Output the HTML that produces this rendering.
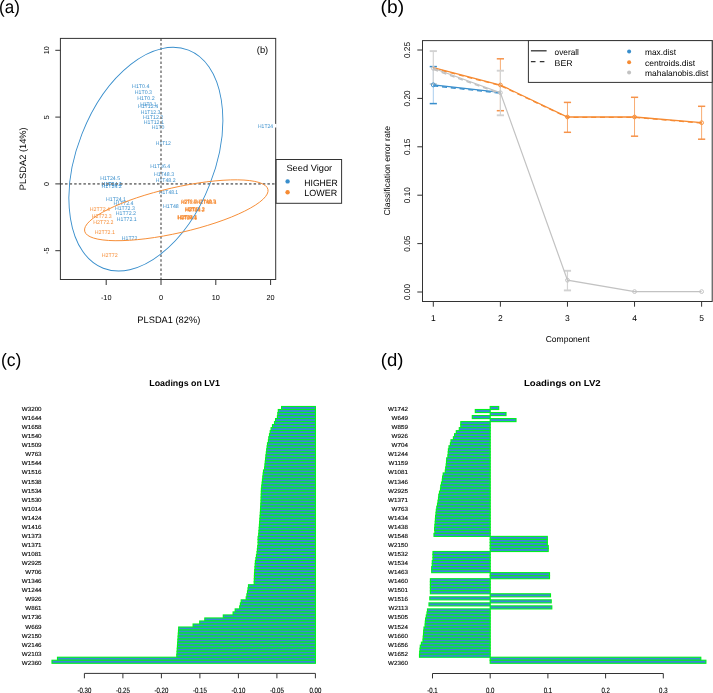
<!DOCTYPE html>
<html><head><meta charset="utf-8"><style>
html,body{margin:0;padding:0;background:#fff;width:713px;height:693px;overflow:hidden;}
svg{display:block;font-family:"Liberation Sans", sans-serif;will-change:transform;text-rendering:geometricPrecision;}
</style></head><body>
<svg width="713" height="693" viewBox="0 0 713 693" font-family='"Liberation Sans", sans-serif'><text x="-1.00" y="12.90" font-size="18" text-anchor="start" fill="#000" textLength="20.8" lengthAdjust="spacingAndGlyphs">(a)</text>
<text x="380.60" y="12.90" font-size="18" text-anchor="start" fill="#000" textLength="23.5" lengthAdjust="spacingAndGlyphs">(b)</text>
<text x="0.90" y="366.40" font-size="18" text-anchor="start" fill="#000" textLength="20.4" lengthAdjust="spacingAndGlyphs">(c)</text>
<text x="380.80" y="366.10" font-size="18" text-anchor="start" fill="#000" textLength="22.6" lengthAdjust="spacingAndGlyphs">(d)</text>
<text x="140.75" y="87.80" font-size="5.3" text-anchor="middle" fill="#388ECC" textLength="17.3" lengthAdjust="spacingAndGlyphs">H1T0.4</text>
<text x="143.40" y="93.60" font-size="5.3" text-anchor="middle" fill="#388ECC" textLength="17.2" lengthAdjust="spacingAndGlyphs">H1T0.3</text>
<text x="145.95" y="99.80" font-size="5.3" text-anchor="middle" fill="#388ECC" textLength="17.3" lengthAdjust="spacingAndGlyphs">H1T0.2</text>
<text x="148.30" y="105.70" font-size="5.3" text-anchor="middle" fill="#388ECC" textLength="16.2" lengthAdjust="spacingAndGlyphs">H1T0.1</text>
<text x="148.00" y="108.30" font-size="5.3" text-anchor="middle" fill="#388ECC" textLength="20.2" lengthAdjust="spacingAndGlyphs">H1T12.4</text>
<text x="150.60" y="113.70" font-size="5.3" text-anchor="middle" fill="#388ECC" textLength="19.6" lengthAdjust="spacingAndGlyphs">H1T12.3</text>
<text x="153.10" y="119.20" font-size="5.3" text-anchor="middle" fill="#388ECC" textLength="20.4" lengthAdjust="spacingAndGlyphs">H1T12.2</text>
<text x="153.80" y="123.90" font-size="5.3" text-anchor="middle" fill="#388ECC" textLength="20.2" lengthAdjust="spacingAndGlyphs">H1T12.1</text>
<text x="158.15" y="128.50" font-size="5.3" text-anchor="middle" fill="#388ECC" textLength="12.7" lengthAdjust="spacingAndGlyphs">H1T0</text>
<text x="163.30" y="144.90" font-size="5.3" text-anchor="middle" fill="#388ECC" textLength="15.0" lengthAdjust="spacingAndGlyphs">H1T12</text>
<text x="265.50" y="127.60" font-size="5.3" text-anchor="middle" fill="#388ECC" textLength="15.0" lengthAdjust="spacingAndGlyphs">H1T24</text>
<text x="160.25" y="167.80" font-size="5.3" text-anchor="middle" fill="#388ECC" textLength="19.9" lengthAdjust="spacingAndGlyphs">H1T36.4</text>
<text x="164.00" y="175.70" font-size="5.3" text-anchor="middle" fill="#388ECC" textLength="20.2" lengthAdjust="spacingAndGlyphs">H1T48.3</text>
<text x="165.65" y="181.80" font-size="5.3" text-anchor="middle" fill="#388ECC" textLength="19.7" lengthAdjust="spacingAndGlyphs">H1T48.2</text>
<text x="110.15" y="179.70" font-size="5.3" text-anchor="middle" fill="#388ECC" textLength="19.9" lengthAdjust="spacingAndGlyphs">H1T24.5</text>
<text x="111.60" y="185.50" font-size="5.3" text-anchor="middle" fill="#388ECC" textLength="20.4" lengthAdjust="spacingAndGlyphs">H1T24.4</text>
<text x="111.70" y="186.20" font-size="5.3" text-anchor="middle" fill="#388ECC" textLength="20.2" lengthAdjust="spacingAndGlyphs">H1T24.3</text>
<text x="111.60" y="187.70" font-size="5.3" text-anchor="middle" fill="#388ECC" textLength="20.4" lengthAdjust="spacingAndGlyphs">H1T24.2</text>
<text x="168.55" y="193.70" font-size="5.3" text-anchor="middle" fill="#388ECC" textLength="19.1" lengthAdjust="spacingAndGlyphs">H1T48.1</text>
<text x="115.95" y="200.90" font-size="5.3" text-anchor="middle" fill="#388ECC" textLength="19.9" lengthAdjust="spacingAndGlyphs">H1T24.1</text>
<text x="123.45" y="204.90" font-size="5.3" text-anchor="middle" fill="#388ECC" textLength="19.9" lengthAdjust="spacingAndGlyphs">H1T72.4</text>
<text x="124.85" y="210.30" font-size="5.3" text-anchor="middle" fill="#388ECC" textLength="19.9" lengthAdjust="spacingAndGlyphs">H1T72.3</text>
<text x="125.90" y="214.70" font-size="5.3" text-anchor="middle" fill="#388ECC" textLength="20.2" lengthAdjust="spacingAndGlyphs">H1T72.2</text>
<text x="126.70" y="221.20" font-size="5.3" text-anchor="middle" fill="#388ECC" textLength="19.8" lengthAdjust="spacingAndGlyphs">H1T72.1</text>
<text x="170.90" y="207.50" font-size="5.3" text-anchor="middle" fill="#388ECC" textLength="15.8" lengthAdjust="spacingAndGlyphs">H1T48</text>
<text x="129.60" y="240.20" font-size="5.3" text-anchor="middle" fill="#388ECC" textLength="15.6" lengthAdjust="spacingAndGlyphs">H1T72</text>
<text x="99.90" y="210.80" font-size="5.3" text-anchor="middle" fill="#F68B33" textLength="20.2" lengthAdjust="spacingAndGlyphs">H2T72.4</text>
<text x="101.75" y="217.60" font-size="5.3" text-anchor="middle" fill="#F68B33" textLength="19.9" lengthAdjust="spacingAndGlyphs">H2T72.3</text>
<text x="103.40" y="224.10" font-size="5.3" text-anchor="middle" fill="#F68B33" textLength="20.2" lengthAdjust="spacingAndGlyphs">H2T72.2</text>
<text x="104.80" y="233.90" font-size="5.3" text-anchor="middle" fill="#F68B33" textLength="20.2" lengthAdjust="spacingAndGlyphs">H2T72.1</text>
<text x="109.65" y="257.20" font-size="5.3" text-anchor="middle" fill="#F68B33" textLength="15.9" lengthAdjust="spacingAndGlyphs">H2T72</text>
<text x="188.40" y="203.50" font-size="5.3" text-anchor="middle" fill="#F68B33" textLength="14.8" lengthAdjust="spacingAndGlyphs">H2T0.4</text>
<text x="188.90" y="203.20" font-size="5.3" text-anchor="middle" fill="#F68B33" textLength="14.8" lengthAdjust="spacingAndGlyphs">H2T0.3</text>
<text x="206.30" y="203.50" font-size="5.3" text-anchor="middle" fill="#F68B33" textLength="20.2" lengthAdjust="spacingAndGlyphs">H2T48.4</text>
<text x="206.50" y="203.80" font-size="5.3" text-anchor="middle" fill="#F68B33" textLength="19.8" lengthAdjust="spacingAndGlyphs">H2T48.3</text>
<text x="188.60" y="203.80" font-size="5.3" text-anchor="middle" fill="#F68B33" textLength="14.8" lengthAdjust="spacingAndGlyphs">H2T0.5</text>
<text x="206.00" y="203.20" font-size="5.3" text-anchor="middle" fill="#F68B33" textLength="20.0" lengthAdjust="spacingAndGlyphs">H2T48.5</text>
<text x="191.90" y="211.40" font-size="5.3" text-anchor="middle" fill="#F68B33" textLength="14.2" lengthAdjust="spacingAndGlyphs">H2T0.2</text>
<text x="195.10" y="211.40" font-size="5.3" text-anchor="middle" fill="#F68B33" textLength="19.2" lengthAdjust="spacingAndGlyphs">H2T48.2</text>
<text x="194.75" y="211.70" font-size="5.3" text-anchor="middle" fill="#F68B33" textLength="19.5" lengthAdjust="spacingAndGlyphs">H2T24.2</text>
<text x="195.00" y="211.10" font-size="5.3" text-anchor="middle" fill="#F68B33" textLength="19.4" lengthAdjust="spacingAndGlyphs">H2T24.3</text>
<text x="187.15" y="219.30" font-size="5.3" text-anchor="middle" fill="#F68B33" textLength="19.9" lengthAdjust="spacingAndGlyphs">H2T48.1</text>
<text x="187.30" y="219.10" font-size="5.3" text-anchor="middle" fill="#F68B33" textLength="18.6" lengthAdjust="spacingAndGlyphs">H2T0.1</text>
<text x="187.25" y="219.60" font-size="5.3" text-anchor="middle" fill="#F68B33" textLength="19.5" lengthAdjust="spacingAndGlyphs">H2T24.1</text>
<text x="187.25" y="218.90" font-size="5.3" text-anchor="middle" fill="#F68B33" textLength="19.7" lengthAdjust="spacingAndGlyphs">H2T24.4</text>
<line x1="161.00" y1="38.40" x2="161.00" y2="279.50" stroke="#808080" stroke-width="1.6" stroke-dasharray="2.5 2.1"/>
<line x1="60.40" y1="183.90" x2="275.70" y2="183.90" stroke="#808080" stroke-width="1.6" stroke-dasharray="2.5 2.1"/>
<ellipse cx="145.87" cy="159.17" rx="68.71" ry="117.08" transform="rotate(21.36 145.87 159.17)" fill="none" stroke="#388ECC" stroke-width="0.9"/>
<ellipse cx="176.3" cy="210.27" rx="94.0" ry="22.68" transform="rotate(-12.86 176.3 210.27)" fill="none" stroke="#F68B33" stroke-width="0.9"/>
<rect x="60.4" y="38.4" width="215.30" height="241.10" fill="none" stroke="#333" stroke-width="1"/>
<rect x="274.9" y="123.9" width="1.8" height="3.6" fill="#fff"/>
<line x1="55.30" y1="50.30" x2="60.40" y2="50.30" stroke="#333" stroke-width="1"/>
<text x="48.80" y="50.30" font-size="7.3" text-anchor="middle" fill="#000" transform="rotate(-90 48.80 50.30)">10</text>
<line x1="55.30" y1="117.10" x2="60.40" y2="117.10" stroke="#333" stroke-width="1"/>
<text x="48.80" y="117.10" font-size="7.3" text-anchor="middle" fill="#000" transform="rotate(-90 48.80 117.10)">5</text>
<line x1="55.30" y1="183.90" x2="60.40" y2="183.90" stroke="#333" stroke-width="1"/>
<text x="48.80" y="183.90" font-size="7.3" text-anchor="middle" fill="#000" transform="rotate(-90 48.80 183.90)">0</text>
<line x1="55.30" y1="250.70" x2="60.40" y2="250.70" stroke="#333" stroke-width="1"/>
<text x="48.80" y="250.70" font-size="7.3" text-anchor="middle" fill="#000" transform="rotate(-90 48.80 250.70)">-5</text>
<line x1="106.20" y1="279.50" x2="106.20" y2="285.00" stroke="#333" stroke-width="1"/>
<text x="106.20" y="300.11" font-size="7.3" text-anchor="middle" fill="#000">-10</text>
<line x1="161.00" y1="279.50" x2="161.00" y2="285.00" stroke="#333" stroke-width="1"/>
<text x="161.00" y="300.11" font-size="7.3" text-anchor="middle" fill="#000">0</text>
<line x1="215.80" y1="279.50" x2="215.80" y2="285.00" stroke="#333" stroke-width="1"/>
<text x="215.80" y="300.11" font-size="7.3" text-anchor="middle" fill="#000">10</text>
<line x1="270.60" y1="279.50" x2="270.60" y2="285.00" stroke="#333" stroke-width="1"/>
<text x="270.60" y="300.11" font-size="7.3" text-anchor="middle" fill="#000">20</text>
<text x="168.80" y="322.83" font-size="9.3" text-anchor="middle" fill="#000" textLength="62.9" lengthAdjust="spacingAndGlyphs">PLSDA1 (82%)</text>
<text x="26.10" y="158.80" font-size="9.3" text-anchor="middle" fill="#000" transform="rotate(-90 26.10 158.80)" textLength="63" lengthAdjust="spacingAndGlyphs">PLSDA2 (14%)</text>
<text x="262.50" y="52.97" font-size="9.4" text-anchor="middle" fill="#000" textLength="11.4" lengthAdjust="spacingAndGlyphs">(b)</text>
<rect x="276.1" y="159.5" width="65.5" height="43.8" fill="#fff" stroke="#333" stroke-width="1"/>
<text x="286.40" y="170.80" font-size="9" text-anchor="start" fill="#000" textLength="45.8" lengthAdjust="spacingAndGlyphs">Seed Vigor</text>
<circle cx="287.6" cy="181.4" r="2.2" fill="#388ECC"/>
<circle cx="287.6" cy="192.2" r="2.2" fill="#F68B33"/>
<text x="304.30" y="185.80" font-size="9" text-anchor="start" fill="#000" textLength="33.5" lengthAdjust="spacingAndGlyphs">HIGHER</text>
<text x="304.30" y="196.30" font-size="9" text-anchor="start" fill="#000" textLength="32.8" lengthAdjust="spacingAndGlyphs">LOWER</text>
<line x1="433.30" y1="66.60" x2="433.30" y2="103.60" stroke="#A9CDEE" stroke-width="1.0"/>
<line x1="429.70" y1="66.60" x2="436.90" y2="66.60" stroke="#388ECC" stroke-width="1.5"/>
<line x1="429.70" y1="103.60" x2="436.90" y2="103.60" stroke="#388ECC" stroke-width="1.5"/>
<line x1="500.38" y1="58.80" x2="500.38" y2="110.70" stroke="#F8AC72" stroke-width="1.0"/>
<line x1="496.78" y1="58.80" x2="503.98" y2="58.80" stroke="#F6934A" stroke-width="1.5"/>
<line x1="496.78" y1="110.70" x2="503.98" y2="110.70" stroke="#F6934A" stroke-width="1.5"/>
<line x1="567.46" y1="102.40" x2="567.46" y2="132.30" stroke="#F8AC72" stroke-width="1.0"/>
<line x1="563.86" y1="102.40" x2="571.06" y2="102.40" stroke="#F6934A" stroke-width="1.5"/>
<line x1="563.86" y1="132.30" x2="571.06" y2="132.30" stroke="#F6934A" stroke-width="1.5"/>
<line x1="634.54" y1="97.30" x2="634.54" y2="136.20" stroke="#F8AC72" stroke-width="1.0"/>
<line x1="630.94" y1="97.30" x2="638.14" y2="97.30" stroke="#F6934A" stroke-width="1.5"/>
<line x1="630.94" y1="136.20" x2="638.14" y2="136.20" stroke="#F6934A" stroke-width="1.5"/>
<line x1="701.62" y1="106.30" x2="701.62" y2="139.20" stroke="#F8AC72" stroke-width="1.0"/>
<line x1="698.02" y1="106.30" x2="705.22" y2="106.30" stroke="#F6934A" stroke-width="1.5"/>
<line x1="698.02" y1="139.20" x2="705.22" y2="139.20" stroke="#F6934A" stroke-width="1.5"/>
<line x1="433.30" y1="51.10" x2="433.30" y2="84.00" stroke="#D4D4D4" stroke-width="1.2"/>
<line x1="429.70" y1="51.10" x2="436.90" y2="51.10" stroke="#D2D2D2" stroke-width="1.9"/>
<line x1="429.70" y1="84.00" x2="436.90" y2="84.00" stroke="#D2D2D2" stroke-width="1.9"/>
<line x1="500.38" y1="70.70" x2="500.38" y2="115.30" stroke="#D4D4D4" stroke-width="1.2"/>
<line x1="496.78" y1="70.70" x2="503.98" y2="70.70" stroke="#D2D2D2" stroke-width="1.9"/>
<line x1="496.78" y1="115.30" x2="503.98" y2="115.30" stroke="#D2D2D2" stroke-width="1.9"/>
<line x1="567.46" y1="270.80" x2="567.46" y2="290.40" stroke="#D4D4D4" stroke-width="1.2"/>
<line x1="563.86" y1="270.80" x2="571.06" y2="270.80" stroke="#D2D2D2" stroke-width="1.9"/>
<line x1="563.86" y1="290.40" x2="571.06" y2="290.40" stroke="#D2D2D2" stroke-width="1.9"/>
<polyline points="433.30,84.90 500.38,92.40" fill="none" stroke="#388ECC" stroke-width="1.3"/>
<polyline points="433.30,85.80 500.38,93.20" fill="none" stroke="#388ECC" stroke-width="1.3" stroke-dasharray="5 3.8"/>
<circle cx="433.30" cy="84.9" r="2" fill="none" stroke="#388ECC" stroke-width="0.9"/>
<polyline points="433.30,67.70 500.38,85.00 567.46,117.00 634.54,117.00 701.62,122.70" fill="none" stroke="#F68B33" stroke-width="1.3"/>
<polyline points="433.30,68.30 500.38,85.60 567.46,117.40 634.54,117.40 701.62,123.10" fill="none" stroke="#F68B33" stroke-width="1.3" stroke-dasharray="5 3.8"/>
<circle cx="500.38" cy="85.0" r="1.9" fill="none" stroke="#F68B33" stroke-width="0.9"/>
<circle cx="567.46" cy="117.0" r="1.9" fill="none" stroke="#F68B33" stroke-width="0.9"/>
<circle cx="634.54" cy="117.0" r="1.9" fill="none" stroke="#F68B33" stroke-width="0.9"/>
<circle cx="701.62" cy="122.7" r="1.9" fill="none" stroke="#F68B33" stroke-width="0.9"/>
<polyline points="433.30,68.30 500.38,92.70 567.46,280.20 634.54,291.60 701.62,291.60" fill="none" stroke="#C2C2C2" stroke-width="1.2"/>
<polyline points="433.30,69.40 500.38,93.60" fill="none" stroke="#C2C2C2" stroke-width="1.5" stroke-dasharray="5 3.8"/>
<circle cx="433.30" cy="68.3" r="1.9" fill="none" stroke="#C2C2C2" stroke-width="1"/>
<circle cx="500.38" cy="92.7" r="1.9" fill="none" stroke="#C2C2C2" stroke-width="1"/>
<circle cx="567.46" cy="280.2" r="1.9" fill="none" stroke="#C2C2C2" stroke-width="1"/>
<circle cx="634.54" cy="291.6" r="1.9" fill="none" stroke="#C2C2C2" stroke-width="1"/>
<circle cx="701.62" cy="291.6" r="1.9" fill="none" stroke="#C2C2C2" stroke-width="1"/>
<rect x="422.5" y="40.6" width="289.70" height="260.90" fill="none" stroke="#333" stroke-width="1"/>
<rect x="528.4" y="40.6" width="183.8" height="41.8" fill="#fff" stroke="#333" stroke-width="1"/>
<line x1="530.90" y1="50.80" x2="546.60" y2="50.80" stroke="#333" stroke-width="1.3"/>
<line x1="530.90" y1="61.60" x2="545.20" y2="61.60" stroke="#333" stroke-width="1.3" stroke-dasharray="4.6 4.3"/>
<text x="554.60" y="55.30" font-size="8.4" text-anchor="start" fill="#000" textLength="24.3" lengthAdjust="spacingAndGlyphs">overall</text>
<text x="554.60" y="65.60" font-size="8.4" text-anchor="start" fill="#000" textLength="18.0" lengthAdjust="spacingAndGlyphs">BER</text>
<circle cx="629.1" cy="51.5" r="2" fill="#388ECC"/>
<circle cx="629.1" cy="62.3" r="2" fill="#F68B33"/>
<circle cx="629.1" cy="72.6" r="2" fill="#C2C2C2"/>
<text x="645.00" y="55.30" font-size="8.4" text-anchor="start" fill="#000" textLength="31.1" lengthAdjust="spacingAndGlyphs">max.dist</text>
<text x="645.00" y="65.60" font-size="8.4" text-anchor="start" fill="#000" textLength="50" lengthAdjust="spacingAndGlyphs">centroids.dist</text>
<text x="645.00" y="75.70" font-size="8.4" text-anchor="start" fill="#000" textLength="63.4" lengthAdjust="spacingAndGlyphs">mahalanobis.dist</text>
<line x1="417.30" y1="292.00" x2="422.50" y2="292.00" stroke="#333" stroke-width="1"/>
<text x="410.30" y="292.00" font-size="8.3" text-anchor="middle" fill="#000" transform="rotate(-90 410.30 292.00)">0.00</text>
<line x1="417.30" y1="243.60" x2="422.50" y2="243.60" stroke="#333" stroke-width="1"/>
<text x="410.30" y="243.60" font-size="8.3" text-anchor="middle" fill="#000" transform="rotate(-90 410.30 243.60)">0.05</text>
<line x1="417.30" y1="195.20" x2="422.50" y2="195.20" stroke="#333" stroke-width="1"/>
<text x="410.30" y="195.20" font-size="8.3" text-anchor="middle" fill="#000" transform="rotate(-90 410.30 195.20)">0.10</text>
<line x1="417.30" y1="146.80" x2="422.50" y2="146.80" stroke="#333" stroke-width="1"/>
<text x="410.30" y="146.80" font-size="8.3" text-anchor="middle" fill="#000" transform="rotate(-90 410.30 146.80)">0.15</text>
<line x1="417.30" y1="98.40" x2="422.50" y2="98.40" stroke="#333" stroke-width="1"/>
<text x="410.30" y="98.40" font-size="8.3" text-anchor="middle" fill="#000" transform="rotate(-90 410.30 98.40)">0.20</text>
<line x1="417.30" y1="50.00" x2="422.50" y2="50.00" stroke="#333" stroke-width="1"/>
<text x="410.30" y="50.00" font-size="8.3" text-anchor="middle" fill="#000" transform="rotate(-90 410.30 50.00)">0.25</text>
<line x1="433.30" y1="301.50" x2="433.30" y2="306.70" stroke="#333" stroke-width="1"/>
<text x="433.30" y="321.04" font-size="8.5" text-anchor="middle" fill="#000">1</text>
<line x1="500.38" y1="301.50" x2="500.38" y2="306.70" stroke="#333" stroke-width="1"/>
<text x="500.38" y="321.04" font-size="8.5" text-anchor="middle" fill="#000">2</text>
<line x1="567.46" y1="301.50" x2="567.46" y2="306.70" stroke="#333" stroke-width="1"/>
<text x="567.46" y="321.04" font-size="8.5" text-anchor="middle" fill="#000">3</text>
<line x1="634.54" y1="301.50" x2="634.54" y2="306.70" stroke="#333" stroke-width="1"/>
<text x="634.54" y="321.04" font-size="8.5" text-anchor="middle" fill="#000">4</text>
<line x1="701.62" y1="301.50" x2="701.62" y2="306.70" stroke="#333" stroke-width="1"/>
<text x="701.62" y="321.04" font-size="8.5" text-anchor="middle" fill="#000">5</text>
<text x="567.70" y="342.34" font-size="8.5" text-anchor="middle" fill="#000" textLength="44" lengthAdjust="spacingAndGlyphs">Component</text>
<text x="390.40" y="170.70" font-size="8.5" text-anchor="middle" fill="#000" transform="rotate(-90 390.40 170.70)" textLength="89.4" lengthAdjust="spacingAndGlyphs">Classification error rate</text>
<g fill="#3C87D7" stroke="#00F020" stroke-width="1.15"><rect x="281.60" y="406.500" width="33.80" height="3.021"/><rect x="278.30" y="409.521" width="37.10" height="3.021"/><rect x="277.80" y="412.542" width="37.60" height="3.021"/><rect x="277.40" y="415.563" width="38.00" height="3.021"/><rect x="275.60" y="418.584" width="39.80" height="3.021"/><rect x="274.50" y="421.605" width="40.90" height="3.021"/><rect x="272.50" y="424.626" width="42.90" height="3.021"/><rect x="271.10" y="427.647" width="44.30" height="3.021"/><rect x="270.20" y="430.668" width="45.20" height="3.021"/><rect x="269.50" y="433.689" width="45.90" height="3.021"/><rect x="268.80" y="436.710" width="46.60" height="3.021"/><rect x="268.40" y="439.731" width="47.00" height="3.021"/><rect x="267.50" y="442.752" width="47.90" height="3.021"/><rect x="267.10" y="445.773" width="48.30" height="3.021"/><rect x="266.70" y="448.794" width="48.70" height="3.021"/><rect x="266.30" y="451.815" width="49.10" height="3.021"/><rect x="265.90" y="454.836" width="49.50" height="3.021"/><rect x="265.57" y="457.857" width="49.82" height="3.021"/><rect x="265.25" y="460.878" width="50.15" height="3.021"/><rect x="264.93" y="463.899" width="50.47" height="3.021"/><rect x="264.60" y="466.920" width="50.80" height="3.021"/><rect x="263.50" y="469.941" width="51.90" height="3.021"/><rect x="263.15" y="472.962" width="52.25" height="3.021"/><rect x="262.80" y="475.983" width="52.60" height="3.021"/><rect x="262.45" y="479.004" width="52.95" height="3.021"/><rect x="262.10" y="482.025" width="53.30" height="3.021"/><rect x="261.75" y="485.046" width="53.65" height="3.021"/><rect x="261.40" y="488.067" width="54.00" height="3.021"/><rect x="261.30" y="491.088" width="54.10" height="3.021"/><rect x="261.20" y="494.109" width="54.20" height="3.021"/><rect x="261.10" y="497.130" width="54.30" height="3.021"/><rect x="261.00" y="500.151" width="54.40" height="3.021"/><rect x="260.82" y="503.172" width="54.57" height="3.021"/><rect x="260.65" y="506.193" width="54.75" height="3.021"/><rect x="260.48" y="509.214" width="54.92" height="3.021"/><rect x="260.30" y="512.235" width="55.10" height="3.021"/><rect x="260.07" y="515.256" width="55.32" height="3.021"/><rect x="259.85" y="518.277" width="55.55" height="3.021"/><rect x="259.62" y="521.298" width="55.77" height="3.021"/><rect x="259.40" y="524.319" width="56.00" height="3.021"/><rect x="259.17" y="527.340" width="56.23" height="3.021"/><rect x="258.93" y="530.361" width="56.47" height="3.021"/><rect x="258.70" y="533.382" width="56.70" height="3.021"/><rect x="258.10" y="536.403" width="57.30" height="3.021"/><rect x="258.10" y="539.424" width="57.30" height="3.021"/><rect x="258.10" y="542.445" width="57.30" height="3.021"/><rect x="257.73" y="545.466" width="57.67" height="3.021"/><rect x="257.37" y="548.487" width="58.03" height="3.021"/><rect x="257.00" y="551.508" width="58.40" height="3.021"/><rect x="256.47" y="554.529" width="58.93" height="3.021"/><rect x="255.93" y="557.550" width="59.47" height="3.021"/><rect x="255.40" y="560.571" width="60.00" height="3.021"/><rect x="255.18" y="563.592" width="60.22" height="3.021"/><rect x="254.95" y="566.613" width="60.45" height="3.021"/><rect x="254.72" y="569.634" width="60.67" height="3.021"/><rect x="254.50" y="572.655" width="60.90" height="3.021"/><rect x="254.40" y="575.676" width="61.00" height="3.021"/><rect x="254.30" y="578.697" width="61.10" height="3.021"/><rect x="254.20" y="581.718" width="61.20" height="3.021"/><rect x="248.50" y="584.739" width="66.90" height="3.021"/><rect x="248.00" y="587.760" width="67.40" height="3.021"/><rect x="247.50" y="590.781" width="67.90" height="3.021"/><rect x="246.90" y="593.802" width="68.50" height="3.021"/><rect x="246.20" y="596.823" width="69.20" height="3.021"/><rect x="241.20" y="599.844" width="74.20" height="3.021"/><rect x="240.40" y="602.865" width="75.00" height="3.021"/><rect x="239.70" y="605.886" width="75.70" height="3.021"/><rect x="235.20" y="608.907" width="80.20" height="3.021"/><rect x="233.10" y="611.928" width="82.30" height="3.021"/><rect x="223.30" y="614.949" width="92.10" height="3.021"/><rect x="204.80" y="617.970" width="110.60" height="3.021"/><rect x="199.70" y="620.991" width="115.70" height="3.021"/><rect x="193.10" y="624.012" width="122.30" height="3.021"/><rect x="178.70" y="627.033" width="136.70" height="3.021"/><rect x="178.49" y="630.054" width="136.91" height="3.021"/><rect x="178.28" y="633.075" width="137.12" height="3.021"/><rect x="178.07" y="636.096" width="137.33" height="3.021"/><rect x="177.86" y="639.117" width="137.54" height="3.021"/><rect x="177.64" y="642.138" width="137.76" height="3.021"/><rect x="177.43" y="645.159" width="137.97" height="3.021"/><rect x="177.22" y="648.180" width="138.18" height="3.021"/><rect x="177.01" y="651.201" width="138.39" height="3.021"/><rect x="176.80" y="654.222" width="138.60" height="3.021"/><rect x="57.50" y="657.243" width="257.90" height="3.021"/><rect x="52.00" y="660.264" width="263.40" height="3.021"/></g>
<g fill="#3C87D7" stroke="#00F020" stroke-width="1.15"><rect x="490.20" y="406.500" width="8.50" height="3.021"/><rect x="475.30" y="409.521" width="14.90" height="3.021"/><rect x="490.20" y="412.542" width="15.80" height="3.021"/><rect x="472.30" y="415.563" width="17.90" height="3.021"/><rect x="490.20" y="418.584" width="25.80" height="3.021"/><rect x="460.80" y="421.605" width="29.40" height="3.021"/><rect x="460.80" y="424.626" width="29.40" height="3.021"/><rect x="459.30" y="427.647" width="30.90" height="3.021"/><rect x="456.30" y="430.668" width="33.90" height="3.021"/><rect x="454.60" y="433.689" width="35.60" height="3.021"/><rect x="453.40" y="436.710" width="36.80" height="3.021"/><rect x="451.00" y="439.731" width="39.20" height="3.021"/><rect x="450.40" y="442.752" width="39.80" height="3.021"/><rect x="449.00" y="445.773" width="41.20" height="3.021"/><rect x="448.40" y="448.794" width="41.80" height="3.021"/><rect x="448.20" y="451.815" width="42.00" height="3.021"/><rect x="447.90" y="454.836" width="42.30" height="3.021"/><rect x="446.70" y="457.857" width="43.50" height="3.021"/><rect x="446.50" y="460.878" width="43.70" height="3.021"/><rect x="446.20" y="463.899" width="44.00" height="3.021"/><rect x="445.70" y="466.920" width="44.50" height="3.021"/><rect x="445.30" y="469.941" width="44.90" height="3.021"/><rect x="443.20" y="472.962" width="47.00" height="3.021"/><rect x="442.60" y="475.983" width="47.60" height="3.021"/><rect x="442.30" y="479.004" width="47.90" height="3.021"/><rect x="441.50" y="482.025" width="48.70" height="3.021"/><rect x="440.80" y="485.046" width="49.40" height="3.021"/><rect x="440.50" y="488.067" width="49.70" height="3.021"/><rect x="439.50" y="491.088" width="50.70" height="3.021"/><rect x="438.80" y="494.109" width="51.40" height="3.021"/><rect x="438.50" y="497.130" width="51.70" height="3.021"/><rect x="438.00" y="500.151" width="52.20" height="3.021"/><rect x="437.50" y="503.172" width="52.70" height="3.021"/><rect x="436.80" y="506.193" width="53.40" height="3.021"/><rect x="436.30" y="509.214" width="53.90" height="3.021"/><rect x="436.00" y="512.235" width="54.20" height="3.021"/><rect x="435.60" y="515.256" width="54.60" height="3.021"/><rect x="435.40" y="518.277" width="54.80" height="3.021"/><rect x="435.20" y="521.298" width="55.00" height="3.021"/><rect x="434.90" y="524.319" width="55.30" height="3.021"/><rect x="434.60" y="527.340" width="55.60" height="3.021"/><rect x="434.90" y="530.361" width="55.30" height="3.021"/><rect x="434.00" y="533.382" width="56.20" height="3.021"/><rect x="490.20" y="536.403" width="57.10" height="3.021"/><rect x="490.20" y="539.424" width="57.10" height="3.021"/><rect x="490.20" y="542.445" width="57.10" height="3.021"/><rect x="490.20" y="545.466" width="58.00" height="3.021"/><rect x="490.20" y="548.487" width="58.00" height="3.021"/><rect x="433.00" y="551.508" width="57.20" height="3.021"/><rect x="433.00" y="554.529" width="57.20" height="3.021"/><rect x="433.00" y="557.550" width="57.20" height="3.021"/><rect x="432.30" y="560.571" width="57.90" height="3.021"/><rect x="432.30" y="563.592" width="57.90" height="3.021"/><rect x="431.70" y="566.613" width="58.50" height="3.021"/><rect x="431.70" y="569.634" width="58.50" height="3.021"/><rect x="490.20" y="572.655" width="59.30" height="3.021"/><rect x="490.20" y="575.676" width="59.30" height="3.021"/><rect x="430.40" y="578.697" width="59.80" height="3.021"/><rect x="430.40" y="581.718" width="59.80" height="3.021"/><rect x="430.40" y="584.739" width="59.80" height="3.021"/><rect x="430.40" y="587.760" width="59.80" height="3.021"/><rect x="430.40" y="590.781" width="59.80" height="3.021"/><rect x="490.20" y="593.802" width="60.30" height="3.021"/><rect x="429.80" y="596.823" width="60.40" height="3.021"/><rect x="490.20" y="599.844" width="61.00" height="3.021"/><rect x="429.00" y="602.865" width="61.20" height="3.021"/><rect x="490.20" y="605.886" width="61.60" height="3.021"/><rect x="427.50" y="608.907" width="62.70" height="3.021"/><rect x="427.00" y="611.928" width="63.20" height="3.021"/><rect x="426.30" y="614.949" width="63.90" height="3.021"/><rect x="425.60" y="617.970" width="64.60" height="3.021"/><rect x="425.30" y="620.991" width="64.90" height="3.021"/><rect x="425.10" y="624.012" width="65.10" height="3.021"/><rect x="424.00" y="627.033" width="66.20" height="3.021"/><rect x="423.70" y="630.054" width="66.50" height="3.021"/><rect x="423.50" y="633.075" width="66.70" height="3.021"/><rect x="423.20" y="636.096" width="67.00" height="3.021"/><rect x="423.00" y="639.117" width="67.20" height="3.021"/><rect x="421.40" y="642.138" width="68.80" height="3.021"/><rect x="420.30" y="645.159" width="69.90" height="3.021"/><rect x="420.00" y="648.180" width="70.20" height="3.021"/><rect x="419.70" y="651.201" width="70.50" height="3.021"/><rect x="419.50" y="654.222" width="70.70" height="3.021"/><rect x="490.20" y="657.243" width="210.60" height="3.021"/><rect x="490.20" y="660.264" width="215.70" height="3.021"/></g>
<text transform="translate(41.6 411.02) scale(1.06 1)" font-size="5.9" text-anchor="end" stroke="#000" stroke-width="0.12">W3200</text>
<text transform="translate(407.9 411.02) scale(1.06 1)" font-size="5.9" text-anchor="end" stroke="#000" stroke-width="0.12">W1742</text>
<text transform="translate(41.6 420.09) scale(1.06 1)" font-size="5.9" text-anchor="end" stroke="#000" stroke-width="0.12">W1644</text>
<text transform="translate(407.9 420.09) scale(1.06 1)" font-size="5.9" text-anchor="end" stroke="#000" stroke-width="0.12">W649</text>
<text transform="translate(41.6 429.15) scale(1.06 1)" font-size="5.9" text-anchor="end" stroke="#000" stroke-width="0.12">W1658</text>
<text transform="translate(407.9 429.15) scale(1.06 1)" font-size="5.9" text-anchor="end" stroke="#000" stroke-width="0.12">W859</text>
<text transform="translate(41.6 438.21) scale(1.06 1)" font-size="5.9" text-anchor="end" stroke="#000" stroke-width="0.12">W1540</text>
<text transform="translate(407.9 438.21) scale(1.06 1)" font-size="5.9" text-anchor="end" stroke="#000" stroke-width="0.12">W926</text>
<text transform="translate(41.6 447.27) scale(1.06 1)" font-size="5.9" text-anchor="end" stroke="#000" stroke-width="0.12">W1509</text>
<text transform="translate(407.9 447.27) scale(1.06 1)" font-size="5.9" text-anchor="end" stroke="#000" stroke-width="0.12">W704</text>
<text transform="translate(41.6 456.34) scale(1.06 1)" font-size="5.9" text-anchor="end" stroke="#000" stroke-width="0.12">W763</text>
<text transform="translate(407.9 456.34) scale(1.06 1)" font-size="5.9" text-anchor="end" stroke="#000" stroke-width="0.12">W1244</text>
<text transform="translate(41.6 465.40) scale(1.06 1)" font-size="5.9" text-anchor="end" stroke="#000" stroke-width="0.12">W1544</text>
<text transform="translate(407.9 465.40) scale(1.06 1)" font-size="5.9" text-anchor="end" stroke="#000" stroke-width="0.12">W1159</text>
<text transform="translate(41.6 474.46) scale(1.06 1)" font-size="5.9" text-anchor="end" stroke="#000" stroke-width="0.12">W1516</text>
<text transform="translate(407.9 474.46) scale(1.06 1)" font-size="5.9" text-anchor="end" stroke="#000" stroke-width="0.12">W1081</text>
<text transform="translate(41.6 483.53) scale(1.06 1)" font-size="5.9" text-anchor="end" stroke="#000" stroke-width="0.12">W1538</text>
<text transform="translate(407.9 483.53) scale(1.06 1)" font-size="5.9" text-anchor="end" stroke="#000" stroke-width="0.12">W1346</text>
<text transform="translate(41.6 492.59) scale(1.06 1)" font-size="5.9" text-anchor="end" stroke="#000" stroke-width="0.12">W1534</text>
<text transform="translate(407.9 492.59) scale(1.06 1)" font-size="5.9" text-anchor="end" stroke="#000" stroke-width="0.12">W2925</text>
<text transform="translate(41.6 501.65) scale(1.06 1)" font-size="5.9" text-anchor="end" stroke="#000" stroke-width="0.12">W1530</text>
<text transform="translate(407.9 501.65) scale(1.06 1)" font-size="5.9" text-anchor="end" stroke="#000" stroke-width="0.12">W1371</text>
<text transform="translate(41.6 510.72) scale(1.06 1)" font-size="5.9" text-anchor="end" stroke="#000" stroke-width="0.12">W1014</text>
<text transform="translate(407.9 510.72) scale(1.06 1)" font-size="5.9" text-anchor="end" stroke="#000" stroke-width="0.12">W763</text>
<text transform="translate(41.6 519.78) scale(1.06 1)" font-size="5.9" text-anchor="end" stroke="#000" stroke-width="0.12">W1424</text>
<text transform="translate(407.9 519.78) scale(1.06 1)" font-size="5.9" text-anchor="end" stroke="#000" stroke-width="0.12">W1434</text>
<text transform="translate(41.6 528.84) scale(1.06 1)" font-size="5.9" text-anchor="end" stroke="#000" stroke-width="0.12">W1416</text>
<text transform="translate(407.9 528.84) scale(1.06 1)" font-size="5.9" text-anchor="end" stroke="#000" stroke-width="0.12">W1438</text>
<text transform="translate(41.6 537.90) scale(1.06 1)" font-size="5.9" text-anchor="end" stroke="#000" stroke-width="0.12">W1373</text>
<text transform="translate(407.9 537.90) scale(1.06 1)" font-size="5.9" text-anchor="end" stroke="#000" stroke-width="0.12">W1548</text>
<text transform="translate(41.6 546.97) scale(1.06 1)" font-size="5.9" text-anchor="end" stroke="#000" stroke-width="0.12">W1371</text>
<text transform="translate(407.9 546.97) scale(1.06 1)" font-size="5.9" text-anchor="end" stroke="#000" stroke-width="0.12">W2150</text>
<text transform="translate(41.6 556.03) scale(1.06 1)" font-size="5.9" text-anchor="end" stroke="#000" stroke-width="0.12">W1081</text>
<text transform="translate(407.9 556.03) scale(1.06 1)" font-size="5.9" text-anchor="end" stroke="#000" stroke-width="0.12">W1532</text>
<text transform="translate(41.6 565.09) scale(1.06 1)" font-size="5.9" text-anchor="end" stroke="#000" stroke-width="0.12">W2925</text>
<text transform="translate(407.9 565.09) scale(1.06 1)" font-size="5.9" text-anchor="end" stroke="#000" stroke-width="0.12">W1534</text>
<text transform="translate(41.6 574.16) scale(1.06 1)" font-size="5.9" text-anchor="end" stroke="#000" stroke-width="0.12">W706</text>
<text transform="translate(407.9 574.16) scale(1.06 1)" font-size="5.9" text-anchor="end" stroke="#000" stroke-width="0.12">W1463</text>
<text transform="translate(41.6 583.22) scale(1.06 1)" font-size="5.9" text-anchor="end" stroke="#000" stroke-width="0.12">W1346</text>
<text transform="translate(407.9 583.22) scale(1.06 1)" font-size="5.9" text-anchor="end" stroke="#000" stroke-width="0.12">W1460</text>
<text transform="translate(41.6 592.28) scale(1.06 1)" font-size="5.9" text-anchor="end" stroke="#000" stroke-width="0.12">W1244</text>
<text transform="translate(407.9 592.28) scale(1.06 1)" font-size="5.9" text-anchor="end" stroke="#000" stroke-width="0.12">W1501</text>
<text transform="translate(41.6 601.35) scale(1.06 1)" font-size="5.9" text-anchor="end" stroke="#000" stroke-width="0.12">W926</text>
<text transform="translate(407.9 601.35) scale(1.06 1)" font-size="5.9" text-anchor="end" stroke="#000" stroke-width="0.12">W1516</text>
<text transform="translate(41.6 610.41) scale(1.06 1)" font-size="5.9" text-anchor="end" stroke="#000" stroke-width="0.12">W861</text>
<text transform="translate(407.9 610.41) scale(1.06 1)" font-size="5.9" text-anchor="end" stroke="#000" stroke-width="0.12">W2113</text>
<text transform="translate(41.6 619.47) scale(1.06 1)" font-size="5.9" text-anchor="end" stroke="#000" stroke-width="0.12">W1736</text>
<text transform="translate(407.9 619.47) scale(1.06 1)" font-size="5.9" text-anchor="end" stroke="#000" stroke-width="0.12">W1505</text>
<text transform="translate(41.6 628.53) scale(1.06 1)" font-size="5.9" text-anchor="end" stroke="#000" stroke-width="0.12">W669</text>
<text transform="translate(407.9 628.53) scale(1.06 1)" font-size="5.9" text-anchor="end" stroke="#000" stroke-width="0.12">W1524</text>
<text transform="translate(41.6 637.60) scale(1.06 1)" font-size="5.9" text-anchor="end" stroke="#000" stroke-width="0.12">W2150</text>
<text transform="translate(407.9 637.60) scale(1.06 1)" font-size="5.9" text-anchor="end" stroke="#000" stroke-width="0.12">W1660</text>
<text transform="translate(41.6 646.66) scale(1.06 1)" font-size="5.9" text-anchor="end" stroke="#000" stroke-width="0.12">W2146</text>
<text transform="translate(407.9 646.66) scale(1.06 1)" font-size="5.9" text-anchor="end" stroke="#000" stroke-width="0.12">W1656</text>
<text transform="translate(41.6 655.72) scale(1.06 1)" font-size="5.9" text-anchor="end" stroke="#000" stroke-width="0.12">W2103</text>
<text transform="translate(407.9 655.72) scale(1.06 1)" font-size="5.9" text-anchor="end" stroke="#000" stroke-width="0.12">W1652</text>
<text transform="translate(41.6 664.79) scale(1.06 1)" font-size="5.9" text-anchor="end" stroke="#000" stroke-width="0.12">W2360</text>
<text transform="translate(407.9 664.79) scale(1.06 1)" font-size="5.9" text-anchor="end" stroke="#000" stroke-width="0.12">W2360</text>
<text x="184.60" y="386.21" font-size="8.7" text-anchor="middle" fill="#000" font-weight="bold" textLength="70.7" lengthAdjust="spacingAndGlyphs">Loadings on LV1</text>
<text x="562.30" y="386.21" font-size="8.7" text-anchor="middle" fill="#000" font-weight="bold" textLength="76.8" lengthAdjust="spacingAndGlyphs">Loadings on LV2</text>
<line x1="84.40" y1="673.40" x2="315.40" y2="673.40" stroke="#333" stroke-width="1"/>
<line x1="84.40" y1="673.40" x2="84.40" y2="678.30" stroke="#333" stroke-width="1"/>
<text transform="translate(84.40 693.3) scale(1.03 1.3)" font-size="5.9" text-anchor="middle" stroke="#000" stroke-width="0.1">-0.30</text>
<line x1="122.90" y1="673.40" x2="122.90" y2="678.30" stroke="#333" stroke-width="1"/>
<text transform="translate(122.90 693.3) scale(1.03 1.3)" font-size="5.9" text-anchor="middle" stroke="#000" stroke-width="0.1">-0.25</text>
<line x1="161.40" y1="673.40" x2="161.40" y2="678.30" stroke="#333" stroke-width="1"/>
<text transform="translate(161.40 693.3) scale(1.03 1.3)" font-size="5.9" text-anchor="middle" stroke="#000" stroke-width="0.1">-0.20</text>
<line x1="199.90" y1="673.40" x2="199.90" y2="678.30" stroke="#333" stroke-width="1"/>
<text transform="translate(199.90 693.3) scale(1.03 1.3)" font-size="5.9" text-anchor="middle" stroke="#000" stroke-width="0.1">-0.15</text>
<line x1="238.40" y1="673.40" x2="238.40" y2="678.30" stroke="#333" stroke-width="1"/>
<text transform="translate(238.40 693.3) scale(1.03 1.3)" font-size="5.9" text-anchor="middle" stroke="#000" stroke-width="0.1">-0.10</text>
<line x1="276.90" y1="673.40" x2="276.90" y2="678.30" stroke="#333" stroke-width="1"/>
<text transform="translate(276.90 693.3) scale(1.03 1.3)" font-size="5.9" text-anchor="middle" stroke="#000" stroke-width="0.1">-0.05</text>
<line x1="315.40" y1="673.40" x2="315.40" y2="678.30" stroke="#333" stroke-width="1"/>
<text transform="translate(315.40 693.3) scale(1.03 1.3)" font-size="5.9" text-anchor="middle" stroke="#000" stroke-width="0.1">0.00</text>
<line x1="432.50" y1="673.50" x2="663.30" y2="673.50" stroke="#333" stroke-width="1"/>
<line x1="432.50" y1="673.50" x2="432.50" y2="678.40" stroke="#333" stroke-width="1"/>
<text transform="translate(432.50 693.4) scale(1.03 1.3)" font-size="5.9" text-anchor="middle" stroke="#000" stroke-width="0.1">-0.1</text>
<line x1="490.20" y1="673.50" x2="490.20" y2="678.40" stroke="#333" stroke-width="1"/>
<text transform="translate(490.20 693.4) scale(1.03 1.3)" font-size="5.9" text-anchor="middle" stroke="#000" stroke-width="0.1">0.0</text>
<line x1="547.90" y1="673.50" x2="547.90" y2="678.40" stroke="#333" stroke-width="1"/>
<text transform="translate(547.90 693.4) scale(1.03 1.3)" font-size="5.9" text-anchor="middle" stroke="#000" stroke-width="0.1">0.1</text>
<line x1="605.60" y1="673.50" x2="605.60" y2="678.40" stroke="#333" stroke-width="1"/>
<text transform="translate(605.60 693.4) scale(1.03 1.3)" font-size="5.9" text-anchor="middle" stroke="#000" stroke-width="0.1">0.2</text>
<line x1="663.30" y1="673.50" x2="663.30" y2="678.40" stroke="#333" stroke-width="1"/>
<text transform="translate(663.30 693.4) scale(1.03 1.3)" font-size="5.9" text-anchor="middle" stroke="#000" stroke-width="0.1">0.3</text></svg>
</body></html>
